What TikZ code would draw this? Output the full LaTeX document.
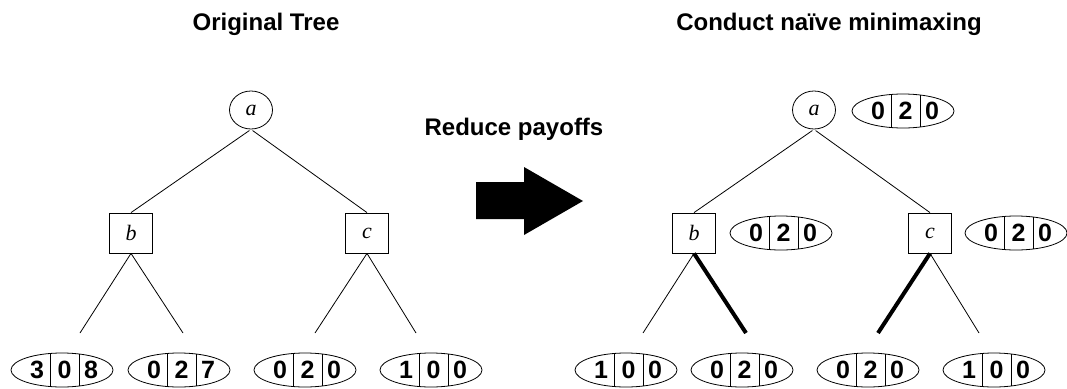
\documentclass[tikz,border=0pt]{standalone}
\usepackage{fontspec}
\setmainfont{Liberation Sans}
\newfontfamily\nodefont{Liberation Serif}
\usepackage{tikz}
\usetikzlibrary{calc}
\usetikzlibrary{positioning}
\usetikzlibrary{shapes.geometric}

\tikzset{
  maxnode/.style={draw, ellipse, line width=0.8pt, minimum width=43pt, minimum height=38pt, inner sep=0pt,
    font=\fontsize{22}{22}\selectfont\nodefont\itshape},
  minnode/.style={draw, rectangle, line width=0.8pt, minimum width=43pt, minimum height=40pt, inner sep=0pt,
    font=\fontsize{22}{22}\selectfont\nodefont\itshape},
  payoff/.style={draw, ellipse, line width=0.8pt, minimum width=102pt, minimum height=34pt, inner sep=0pt},
  digit/.style={font=\fontsize{25}{25}\selectfont\bfseries, inner sep=0pt},
  heading/.style={font=\fontsize{24}{28}\selectfont\bfseries, inner sep=0pt, anchor=base},
  branch/.style={line width=0.8pt},
  chosen/.style={line width=4pt},
}

% payoff oval: name, position, three values
\newcommand{\payoff}[5]{%
  \node[payoff] (#1) at (#2) {};
  \draw[line width=0.8pt] ($(#1)+(-12,-16.5)$) -- ($(#1)+(-12,16.5)$);
  \draw[line width=0.8pt] ($(#1)+(17,-16)$) -- ($(#1)+(17,16)$);
  \node[digit] (#1x) at ($(#1)+(-25,0)$) {#3};
  \node[digit] (#1y) at ($(#1)+(2.5,0)$) {#4};
  \node[digit] (#1z) at ($(#1)+(29,0)$) {#5};
}

\begin{document}
\begin{tikzpicture}[x=1pt, y=-1pt]
            \useasboundingbox (0,0) rectangle (1067,388);

            % headings
            \node[heading] (lhead) at (266,30) {Original Tree};
            \node[heading] (rhead) at (829,30) {Conduct naïve minimaxing};
            \node[heading] (reduce) at (514,135) {Reduce payoffs};

            % big arrow
            \fill (476,182) -- (524,182) -- (524,167) -- (583,201)
                  -- (524,235) -- (524,219) -- (476,219) -- cycle;

            % original tree
            \node[maxnode] (la) at (251,110) {a};
            \node[minnode] (lb) at (131,233) {b};
            \node[minnode] (lc) at (367,233) {c};
            \coordinate (lb1) at (80,333);
            \coordinate (lb2) at (183,333);
            \coordinate (lc1) at (315,333);
            \coordinate (lc2) at (416,333);

            \draw[branch, shorten <=2pt] (la.south) -- (lb.north);
            \draw[branch, shorten <=2pt] (la.south) -- (lc.north);
            \draw[branch] (lb.south) -- (lb1);
            \draw[branch] (lb.south) -- (lb2);
            \draw[branch] (lc.south) -- (lc1);
            \draw[branch] (lc.south) -- (lc2);

            \payoff{l1}{62,370}{3}{0}{8}
            \payoff{l2}{179,370}{0}{2}{7}
            \payoff{l3}{305,370}{0}{2}{0}
            \payoff{l4}{431,370}{1}{0}{0}

            % minimaxed tree
            \node[maxnode] (ra) at (814,110) {a};
            \node[minnode] (rb) at (694,233) {b};
            \node[minnode] (rc) at (930,233) {c};
            \coordinate (rb1) at (643,333);
            \coordinate (rb2) at (746,333);
            \coordinate (rc1) at (878,333);
            \coordinate (rc2) at (979,333);

            \draw[branch, shorten <=2pt] (ra.south) -- (rb.north);
            \draw[branch, shorten <=2pt] (ra.south) -- (rc.north);
            \draw[branch] (rb.south) -- (rb1);
            \draw[chosen] (rb.south) -- (rb2);
            \draw[chosen] (rc.south) -- (rc1);
            \draw[branch] (rc.south) -- (rc2);

            \payoff{r1}{626,370}{1}{0}{0}
            \payoff{r2}{742,370}{0}{2}{0}
            \payoff{r3}{868,370}{0}{2}{0}
            \payoff{r4}{994,370}{1}{0}{0}

            \payoff{rav}{903,111}{0}{2}{0}
            \payoff{rbv}{781,233}{0}{2}{0}
            \payoff{rcv}{1016,233}{0}{2}{0}
        \end{tikzpicture}
\end{document}
